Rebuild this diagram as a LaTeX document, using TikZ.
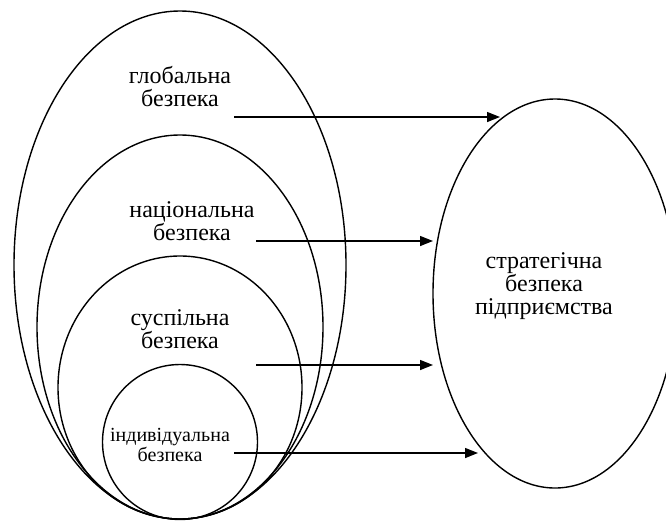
\documentclass[tikz,border=0pt]{standalone}
\usepackage{fontspec}
\setmainfont{Liberation Serif}
\usepackage{tikz}
\usetikzlibrary{positioning, shapes.geometric, arrows.meta}

\begin{document}
\begin{tikzpicture}[x=1pt, y=-1pt, line width=1.4pt,
        every node/.style={font=\fontsize{24}{23}\selectfont, align=center},
        ring/.style={draw, ellipse, inner sep=0pt},
        flow/.style={-{Triangle[length=13pt, width=10pt]}}]
        \useasboundingbox (0,0) rectangle (666,520);

        % Nested levels
        \node (Global) [ring, minimum width=332pt, minimum height=508pt] at (180,265) {};
        \node (National) [ring, minimum width=286pt, minimum height=384pt] at (180,327) {};
        \node (Social) [ring, minimum width=244pt, minimum height=263pt] at (180,387.5) {};
        \node (Individual) [ring, minimum width=155pt, minimum height=155pt] at (180,442) {};

        % Enterprise
        \node (Strategic) [ring, minimum width=244pt, minimum height=389pt] at (555,293.5) {};

        % Labels
        \node (GlobalText) at (180,87) {глобальна\\безпека};
        \node (NationalText) at (192,221) {національна\\безпека};
        \node (SocialText) at (180,329) {суспільна\\безпека};
        \node (IndividualText) [font=\fontsize{20}{18}\selectfont] at (170,445) {індивідуальна\\безпека};
        \node (StrategicText) at (544,286) {стратегічна\\безпека\\підприємства};

        % Arrow ends
        \coordinate (g1) at (234,117);
        \coordinate (g2) at (500,117);
        \coordinate (n1) at (256,241);
        \coordinate (n2) at (433,241);
        \coordinate (s1) at (256,365);
        \coordinate (s2) at (433,365);
        \coordinate (i1) at (234,453);
        \coordinate (i2) at (478,453);

        % Arrows
        \draw[flow] (g1) -- (g2);
        \draw[flow] (n1) -- (n2);
        \draw[flow] (s1) -- (s2);
        \draw[flow] (i1) -- (i2);
    \end{tikzpicture}
\end{document}
